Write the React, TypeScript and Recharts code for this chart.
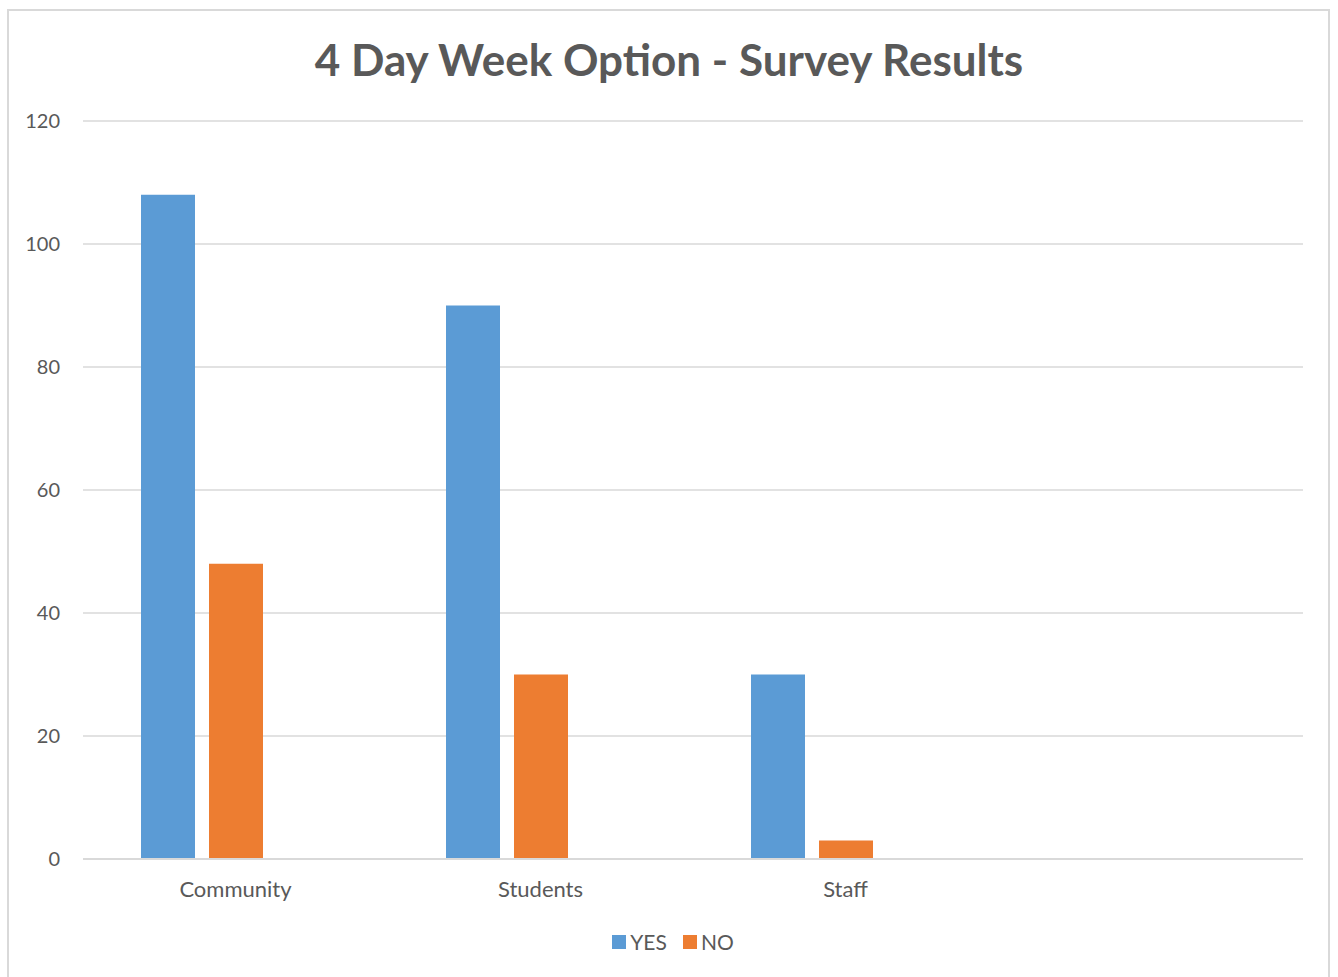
import React from "react";
import { BarChart, Bar, XAxis, YAxis, CartesianGrid } from "recharts";

const categories = ["Community", "Students", "Staff", ""];
const yesValues = [108, 90, 30, null];
const noValues = [48, 30, 3, null];
const blankValues = [null, null, null, null];
const yTicks = [0, 20, 40, 60, 80, 100, 120];
const seriesNames = ["YES", "NO"];
const seriesColors = ["#5B9BD5", "#ED7D31"];

const data = categories.map((c, i) => ({
  name: c,
  yes: yesValues[i],
  no: noValues[i],
  blank: blankValues[i],
}));

const FONT = "Lato, 'Open Sans', sans-serif";

export default function App() {
  return (
    <div style={{ position: "absolute", left: 0, top: 0, width: 1338, height: 977, background: "#fff", overflow: "hidden", fontFamily: FONT }}>
      <div style={{ position: "absolute", left: 7, top: 9, width: 1323, height: 1000, border: "2px solid #d9d9d9", boxSizing: "border-box" }} />
      <div style={{ position: "absolute", left: 0, top: 32, width: 1338, textAlign: "center", fontSize: 44, fontWeight: 700, color: "#595959", lineHeight: "54px" }}>
        4 Day Week Option - Survey Results
      </div>
      <div style={{ position: "absolute", left: 0, top: 0 }}>
        <BarChart
          width={1338}
          height={977}
          data={data}
          margin={{ top: 121, left: 23, right: 35, bottom: 88 }}
          barSize={54}
          barGap={14}
        >
          <CartesianGrid vertical={false} stroke="#d9d9d9" strokeWidth={1.5} />
          <XAxis
            dataKey="name"
            height={30}
            axisLine={{ stroke: "#d9d9d9", strokeWidth: 2 }}
            tickLine={false}
            tickSize={0}
            tickMargin={22}
            tick={{ fill: "#595959", fontSize: 22, fontFamily: FONT }}
            interval={0}
          />
          <YAxis
            width={60}
            domain={[0, 120]}
            ticks={yTicks}
            axisLine={false}
            tickLine={false}
            tickSize={0}
            tickMargin={23}
            tick={{ fill: "#595959", fontSize: 20, fontFamily: FONT }}
          />
          <Bar dataKey="yes" name={seriesNames[0]} fill={seriesColors[0]} isAnimationActive={false} />
          <Bar dataKey="no" name={seriesNames[1]} fill={seriesColors[1]} isAnimationActive={false} />
          <Bar dataKey="blank" name="" fill="#A5A5A5" legendType="none" isAnimationActive={false} />
        </BarChart>
      </div>
      <div style={{ position: "absolute", left: 4, top: 929, width: 1338, display: "flex", justifyContent: "center", alignItems: "center", fontSize: 21, color: "#595959" }}>
        {seriesNames.map((n, i) => (
          <div key={n} style={{ display: "flex", alignItems: "center", marginLeft: i === 0 ? 0 : 16 }}>
            <span style={{ display: "inline-block", width: 14, height: 14, background: seriesColors[i], marginRight: 4 }} />
            <span>{n}</span>
          </div>
        ))}
      </div>
    </div>
  );
}
